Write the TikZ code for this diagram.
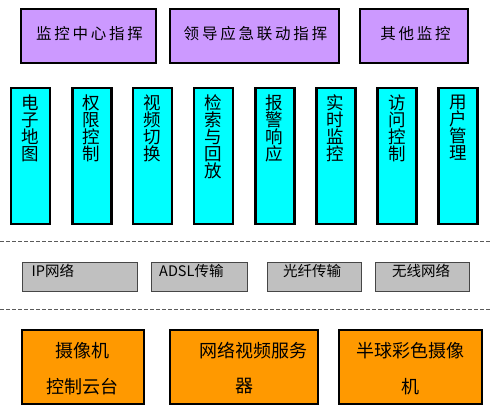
\documentclass[tikz,border=0pt]{standalone}
\usepackage{fontspec}
\setmainfont{Noto Sans CJK SC}
\newfontfamily\topfont[LetterSpace=18]{Noto Sans CJK SC}
\definecolor{purplefill}{RGB}{204,153,255}
\definecolor{cyanfill}{RGB}{0,255,255}
\definecolor{orangefill}{RGB}{255,153,0}
\definecolor{grayfill}{RGB}{192,192,192}
\definecolor{grayline}{RGB}{70,70,70}
\definecolor{dashgray}{RGB}{90,90,90}
\begin{document}
\begin{tikzpicture}[x=1pt,y=-1pt,
  topbox/.style={draw=black, line width=2.4pt, fill=purplefill, inner sep=0pt, minimum height=53.5pt},
  colbox/.style={draw=black, line width=2.2pt, fill=cyanfill, inner sep=0pt, minimum width=39pt, minimum height=136pt},
  netbox/.style={draw=grayline, line width=0.9pt, fill=grayfill, inner sep=0pt, minimum height=29pt},
  devbox/.style={draw=black, line width=2.2pt, fill=orangefill, inner sep=0pt, minimum height=74pt},
  toptext/.style={inner sep=0pt, font=\topfont\fontsize{15.5}{18}\selectfont},
  coltext/.style={inner sep=0pt, anchor=north, align=center, font=\fontsize{17.5}{17}\selectfont},
  nettext/.style={inner sep=0pt, font=\fontsize{14.5}{16}\selectfont},
  devtext/.style={inner sep=0pt, font=\fontsize{18}{20}\selectfont},
  sep/.style={draw=dashgray, line width=0.8pt, dash pattern=on 4pt off 2pt}]
\useasboundingbox (0,0) rectangle (500,411);
\fill[white] (0,0) rectangle (500,411);

% top layer
\node[topbox, minimum width=134.5pt] (t1) at (88.5,36) {};
\node[topbox, minimum width=168.5pt] (t2) at (254.5,36) {};
\node[topbox, minimum width=107.5pt] (t3) at (414,36) {};
\node[toptext] (t1l) at (89.5,33.5) {监控中心指挥};
\node[toptext] (t2l) at (255.5,33.5) {领导应急联动指挥};
\node[toptext] (t3l) at (415.5,33.5) {其他监控};

% function columns
\node[colbox] (c1) at (30.5,156) {};
\node[colbox] (c2) at (92,156) {};
\node[colbox] (c3) at (152.5,156) {};
\node[colbox] (c4) at (213.5,156) {};
\node[colbox] (c5) at (275,156) {};
\node[colbox] (c6) at (336,156) {};
\node[colbox] (c7) at (397,156) {};
\node[colbox] (c8) at (458,156) {};
\node[coltext] (c1l) at (30.5,94.5) {电\\子\\地\\图};
\node[coltext] (c2l) at (91.5,94.5) {权\\限\\控\\制};
\node[coltext] (c3l) at (152.5,94.5) {视\\频\\切\\换};
\node[coltext] (c4l) at (213.5,94.5) {检\\索\\与\\回\\放};
\node[coltext] (c5l) at (274.5,94.5) {报\\警\\响\\应};
\node[coltext] (c6l) at (335.5,94.5) {实\\时\\监\\控};
\node[coltext] (c7l) at (397,94.5) {访\\问\\控\\制};
\node[coltext] (c8l) at (458,94.5) {用\\户\\管\\理};

% separators
\coordinate (s1a) at (0,241);
\coordinate (s1b) at (490,241);
\coordinate (s2a) at (0,309);
\coordinate (s2b) at (490,309);
\draw[sep] (s1a) -- (s1b);
\draw[sep] (s2a) -- (s2b);

% network layer
\node[netbox, minimum width=115pt] (n1) at (79.5,277) {};
\node[netbox, minimum width=96pt] (n2) at (199,277) {};
\node[netbox, minimum width=94pt] (n3) at (314,277) {};
\node[netbox, minimum width=94pt] (n4) at (422,277) {};
\node[nettext, anchor=base west] (n1l) at (31.5,276.5) {IP网络};
\node[nettext, anchor=base west] (n2l) at (159,276.5) {ADSL传输};
\node[nettext, anchor=base] (n3l) at (312,276.5) {光纤传输};
\node[nettext, anchor=base] (n4l) at (421,276.5) {无线网络};

% device layer
\node[devbox, minimum width=122pt] (d1) at (83,367) {};
\node[devbox, minimum width=148pt] (d2) at (244,367) {};
\node[devbox, minimum width=143pt] (d3) at (410.5,367) {};
\node[devtext] (d1a) at (82.5,351) {摄像机};
\node[devtext] (d1b) at (82.5,386.5) {控制云台};
\node[devtext] (d2a) at (253,351) {网络视频服务};
\node[devtext] (d2b) at (244,386.5) {器};
\node[devtext] (d3a) at (410,351) {半球彩色摄像};
\node[devtext] (d3b) at (410,386.5) {机};
\end{tikzpicture}
\end{document}
